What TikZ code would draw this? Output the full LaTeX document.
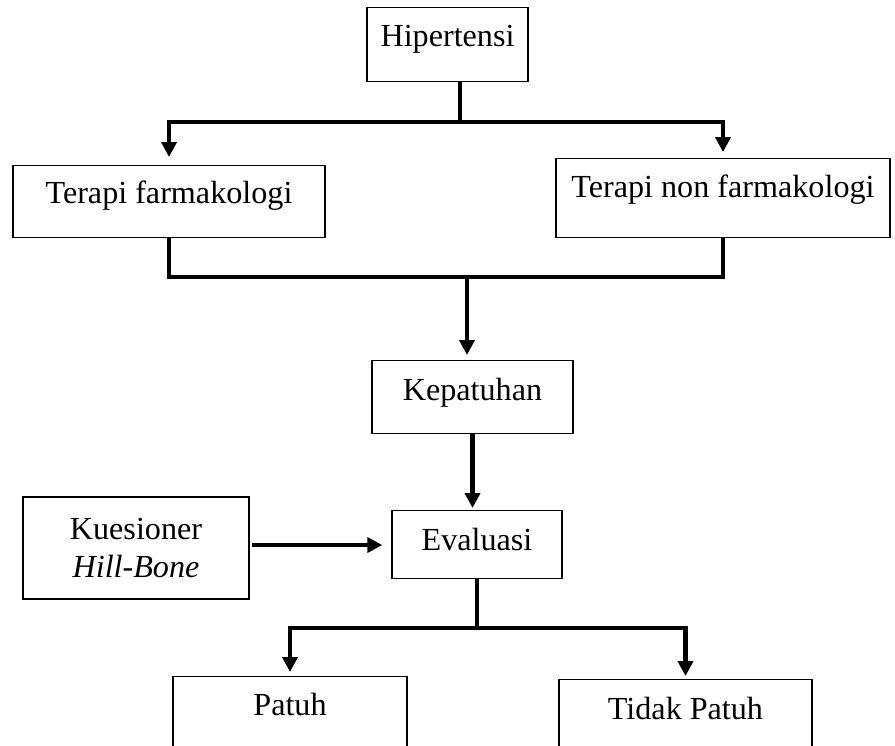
\documentclass[tikz,border=0pt]{standalone}
\usepackage{fontspec}
\setmainfont{Liberation Serif}
\usetikzlibrary{arrows.meta}
\begin{document}
\begin{tikzpicture}[x=0.02cm, y=-0.02cm, font=\fontsize{18.3}{21.5}\selectfont,
	line join=miter, >={Triangle[length=0.30cm, width=0.30cm]},
	kotak/.style={draw, line width=0.8pt, align=center, anchor=north, inner ysep=0pt},
	garis/.style={line width=2.3pt},
	panah/.style={garis, ->}]
	\clip (0,0) rectangle (895,745);
	% kotak-kotak (anchor di sisi atas)
	\node[kotak, minimum width=3.22cm, text height=0.78cm, text depth=0.70cm] (hip) at (447.5,7) {Hipertensi};
	\node[kotak, minimum width=6.24cm, text height=0.76cm, text depth=0.68cm] (farm) at (169,165) {Terapi farmakologi};
	\node[kotak, minimum width=6.68cm, text height=0.78cm, text depth=0.80cm] (nonfarm) at (723,158) {Terapi non farmakologi};
	\node[kotak, minimum width=4.02cm, text height=0.80cm, text depth=0.66cm] (kep) at (472.5,360) {Kepatuhan};
	\node[kotak, minimum width=3.40cm, text height=0.80cm, text depth=0.56cm] (eval) at (477,510) {Evaluasi};
	\node[kotak, anchor=center, minimum width=4.52cm, minimum height=2.04cm] (kues) at (136,548) {Kuesioner\\\textit{Hill-Bone}};
	\node[kotak, minimum width=4.68cm, text height=0.78cm, text depth=1.6cm] (patuh) at (290,676) {Patuh};
	\node[kotak, minimum width=5.06cm, text height=0.80cm, text depth=1.6cm] (tidak) at (685.5,679) {Tidak Patuh};
	% titik cabang
	\coordinate (j1) at (460,122);
	\coordinate (j2) at (467,277);
	\coordinate (j3) at (477,628);
	\coordinate (k1) at (252,545);
	% garis penghubung
	\draw[garis] (hip.south -| j1) -- (j1);
	\draw[panah, shorten >=0.16cm] (j1) -| (farm.north);
	\draw[panah, shorten >=0.12cm] (j1) -| (nonfarm.north);
	\draw[garis] (farm.south) |- (j2) -| (nonfarm.south);
	\draw[panah, shorten >=0.10cm] (j2) -- (j2 |- kep.north);
	\draw[panah, shorten >=0.04cm] (kep.south) -- (kep.south |- eval.north);
	\draw[panah, shorten >=0.18cm] (k1) -- (k1 -| eval.west);
	\draw[garis] (eval.south) -- (j3);
	\draw[panah, shorten >=0.08cm] (j3) -| (patuh.north);
	\draw[panah, shorten >=0.06cm] (j3) -| (tidak.north);
\end{tikzpicture}
\end{document}
